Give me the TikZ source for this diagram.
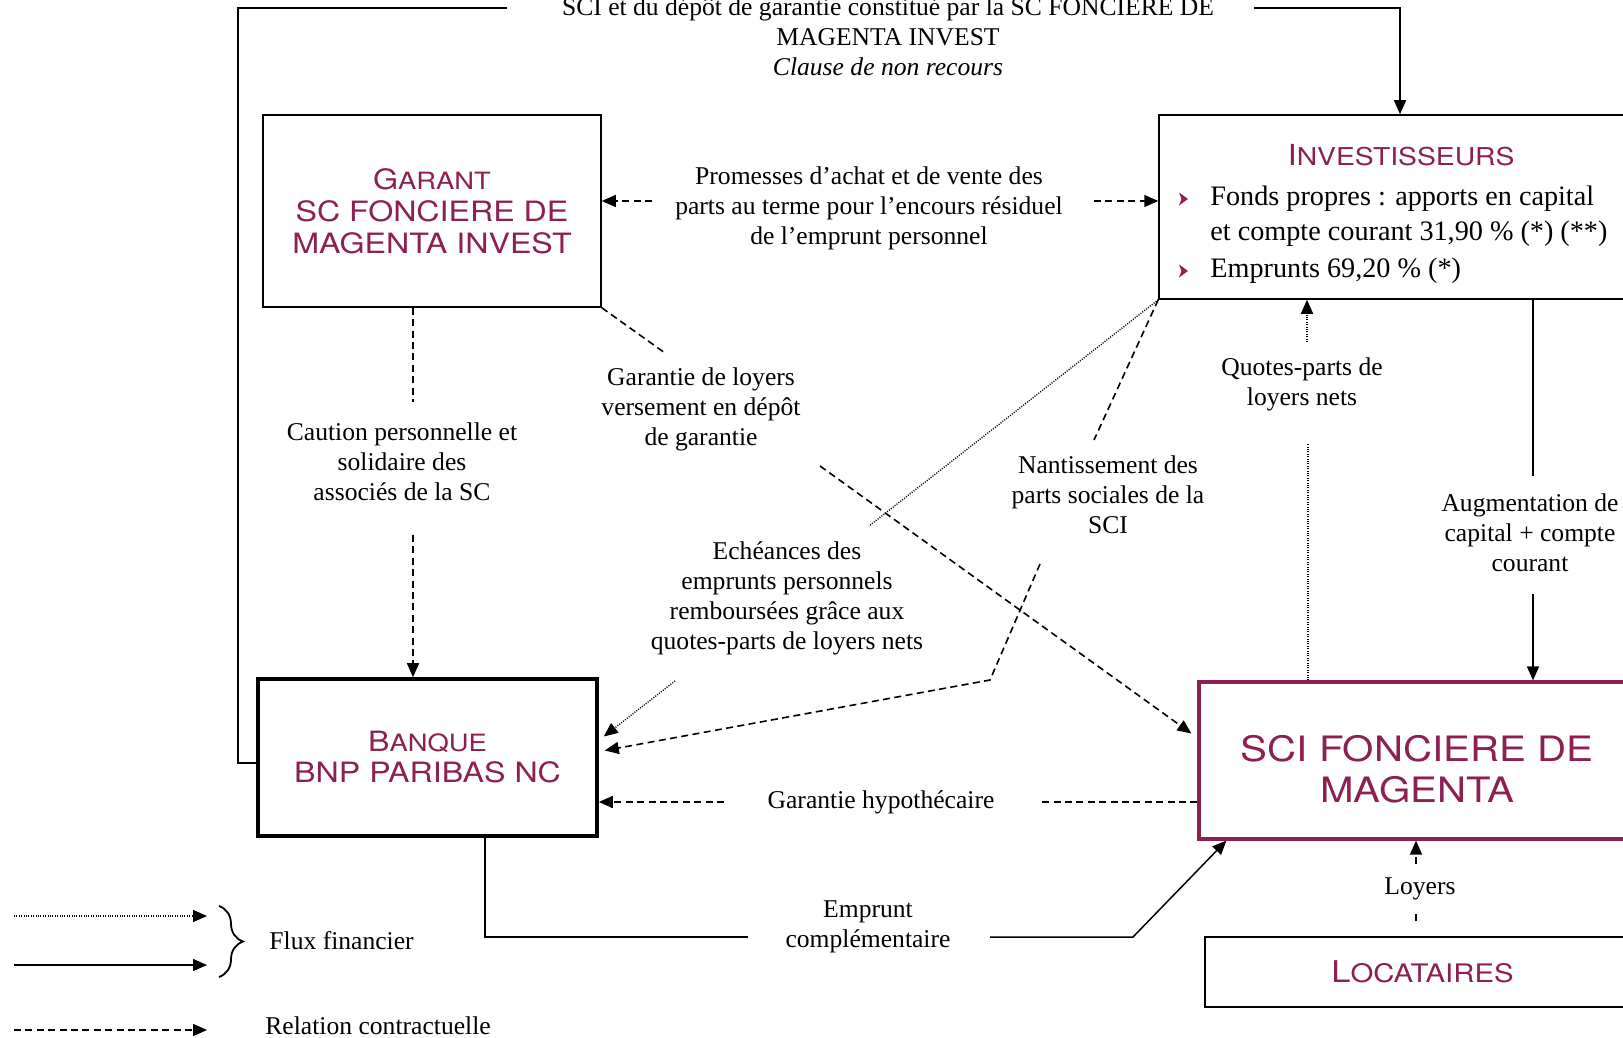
\documentclass[tikz,border=0pt]{standalone}
\usepackage{fontspec}
\setmainfont{Liberation Serif}
\newfontfamily\tf[FakeStretch=1.15]{TeX Gyre Heros}
\usetikzlibrary{arrows.meta,decorations.pathreplacing,calc}
\definecolor{mag}{RGB}{140,32,82}
\newcommand\scaps[4]{{\fontsize{#1}{#1}\selectfont #3}{\fontsize{#2}{#2}\selectfont #4}}
\begin{document}
\begin{tikzpicture}[x=0.5pt,y=-0.5pt,
  lbl/.style={font=\fontsize{12.8pt}{15pt}\selectfont, align=center, inner sep=0pt},
  thinl/.style={line width=0.75pt},
  dsh/.style={line width=0.8pt, dash pattern=on 3.5pt off 2.2pt},
  dtt/.style={line width=0.7pt, dash pattern=on 0.5pt off 0.7pt},
  tipd/.style={-{Triangle[length=7pt,width=6pt]}},
  ttl/.style={font=\tf\fontsize{14pt}{16pt}\selectfont, text=mag, align=center},
 ]
\useasboundingbox (0,0) rectangle (1623,1038);

% boxes
\node[draw, thinl, minimum width=169pt, minimum height=96pt, inner sep=0pt, ttl] (garant) at (432,211)
  {\scaps{14pt}{11.9pt}{G}{ARANT}\\SC FONCIERE DE\\MAGENTA INVEST};
\node[draw, line width=1.8pt, minimum width=169.5pt, minimum height=78.5pt, inner sep=0pt, ttl,
  font=\tf\fontsize{14pt}{15.5pt}\selectfont] (banque) at (427.5,757.5)
  {\scaps{14pt}{11.9pt}{B}{ANQUE}\\BNP PARIBAS NC};
\node[draw=mag, line width=1.6pt, minimum width=220.5pt, minimum height=78.5pt] (sci) at (1419.5,760.5) {};
\node[ttl, font=\tf\fontsize{17.5pt}{20.5pt}\selectfont, inner sep=0pt] (scitext) at (1417,769) {SCI FONCIERE DE\\MAGENTA};
\node[draw, line width=0.7pt, minimum width=217.5pt, minimum height=35pt, inner sep=0pt, ttl,
  font=\tf\fontsize{15pt}{15pt}\selectfont] (loc) at (1422.5,972) {\scaps{15pt}{12.75pt}{L}{OCATAIRES}};
\node[draw, thinl, minimum width=240.5pt, minimum height=92pt] (inv) at (1399.5,207) {};
\node[ttl, inner sep=0pt] (invtitle) at (1401,155) {\scaps{14.5pt}{12.3pt}{I}{NVESTISSEURS}};
\node[anchor=west, align=left, inner sep=0pt, font=\fontsize{14.1pt}{17.5pt}\selectfont] (item1) at (1210,216.5)
  {Fonds propres : apports en capital\\et compte courant 31,90 \% (*) (**)};
\node[anchor=west, align=left, inner sep=0pt, font=\fontsize{14.1pt}{17.5pt}\selectfont] (item2) at (1210,271)
  {Emprunts 69,20 \% (*)};
\fill[mag] (1183,199) ++(-4,-6.5) -- ++(9,6.5) -- ++(-9,6.5) -- ++(2.5,-6.5) -- cycle;
\fill[mag] (1183,271) ++(-4,-6.5) -- ++(9,6.5) -- ++(-9,6.5) -- ++(2.5,-6.5) -- cycle;

% labels
\node[lbl] (toptxt) at (888,37) {SCI et du dépôt de garantie constitué par la SC FONCIERE DE\\MAGENTA INVEST\\\textit{Clause de non recours}};
\node[lbl] (prom) at (869,208) {Promesses d’achat et de vente des\\parts au terme pour l’encours résiduel\\de l’emprunt personnel};
\node[lbl] (caut) at (402,462) {Caution personnelle et\\solidaire des\\associés de la SC};
\node[lbl] (gloy) at (701,409) {Garantie de loyers\\versement en dépôt\\de garantie};
\node[lbl] (eche) at (787,598) {Echéances des\\emprunts personnels\\remboursées grâce aux\\quotes-parts de loyers nets};
\node[lbl] (nant) at (1108,495) {Nantissement des\\parts sociales de la\\SCI};
\node[lbl] (quot) at (1302,384) {Quotes-parts de\\loyers nets};
\node[lbl] (augm) at (1530,533) {Augmentation de\\capital + compte\\courant};
\node[lbl] (hypo) at (881,802) {Garantie hypothécaire};
\node[lbl] (empr) at (868,927) {Emprunt\\complémentaire};
\node[lbl] (loye) at (1420,889) {Loyers};
\node[lbl, anchor=west] (flux) at (269,941) {Flux financier};
\node[lbl, anchor=west] (rela) at (265,1026) {Relation contractuelle};

% Promesses
\coordinate (pL) at (652,201);
\coordinate (pR) at (1094,201);
\draw[dsh,tipd] (pL) -- (pL -| garant.east);
\draw[dsh,tipd] (pR) -- (pR -| inv.west);

% Caution
\coordinate (c1) at (413,402);
\coordinate (c2) at (413,535);
\draw[dsh] (c1 |- garant.south) -- (c1);
\draw[dsh,tipd] (c2) -- (c2 |- banque.north);

% Garantie de loyers
\coordinate (g1) at (665,353);
\coordinate (g2) at (820,466);
\draw[dsh] (garant.south east) -- (g1);
\draw[dsh,tipd] (g2) -- ($(sci.west)+(-6,-27)$);

% Echeances (dotted)
\coordinate (e1) at (869,526);
\coordinate (e2) at (675,681);
\draw[dtt] (inv.south west) -- (e1);
\draw[dtt,tipd] (e2) -- ($(banque.east)+(5,-21)$);

% Nantissement
\coordinate (n1) at (1094,440);
\coordinate (n2) at (1040,564);
\coordinate (n3) at (990,680);
\draw[dsh] (inv.south west) -- (n1);
\draw[dsh,tipd] (n2) -- (n3) -- ($(banque.east)+(6,-7)$);

% Quotes-parts
\coordinate (q1) at (1308,443);
\coordinate (q2) at (1307,342);
\draw[dtt] (q1 |- sci.north) -- (q1);
\draw[dtt,tipd] (q2) -- (q2 |- inv.south);

% Augmentation
\coordinate (a1) at (1533,476);
\coordinate (a2) at (1533,594);
\draw[thinl] (a1 |- inv.south) -- (a1);
\draw[thinl,tipd] (a2) -- (a2 |- sci.north);

% Garantie hypothecaire
\coordinate (h1) at (1038,802);
\coordinate (h2) at (724,802);
\draw[dsh] (h1 -| sci.west) -- (h1);
\draw[dsh,tipd] (h2) -- (h2 -| banque.east);

% Emprunt complementaire
\coordinate (m1) at (485,937);
\coordinate (m2) at (748,937);
\coordinate (m3) at (990,937);
\coordinate (m4) at (1133,937);
\draw[thinl] (m1 |- banque.south) -- (m1) -- (m2);
\draw[thinl,tipd] (m3) -- (m4) -- ($(sci.south west)+(29,0)$);

% Loyers
\coordinate (l1) at (1416,912);
\coordinate (l2) at (1416,864);
\draw[dsh] ($(l1 |- loc.north)+(0,-15)$) -- (l1);
\draw[dsh,tipd] (l2) -- (l2 |- sci.south);

% Top connector
\coordinate (t0) at (238,763);
\coordinate (t1) at (238,8);
\coordinate (t2) at (507,8);
\coordinate (t3) at (1254,8);
\coordinate (t4) at (1400,8);
\draw[thinl] (t0 -| banque.west) -- (t0) -- (t1) -- (t2);
\draw[thinl,tipd] (t3) -- (t4) -- (t4 |- inv.north);

% Legend
\coordinate (La) at (14,916);  \coordinate (Lb) at (207,916);
\coordinate (Lc) at (14,965);  \coordinate (Ld) at (207,965);
\coordinate (Le) at (14,1030); \coordinate (Lf) at (207,1030);
\draw[dtt,tipd] (La) -- (Lb);
\draw[thinl,tipd] (Lc) -- (Ld);
\draw[dsh,tipd] (Le) -- (Lf);
\coordinate (Ba) at (219,906); \coordinate (Bb) at (219,977);
\draw[line width=0.9pt,decorate,decoration={brace,amplitude=12pt}] (Ba) -- (Bb);
\end{tikzpicture}
\end{document}
